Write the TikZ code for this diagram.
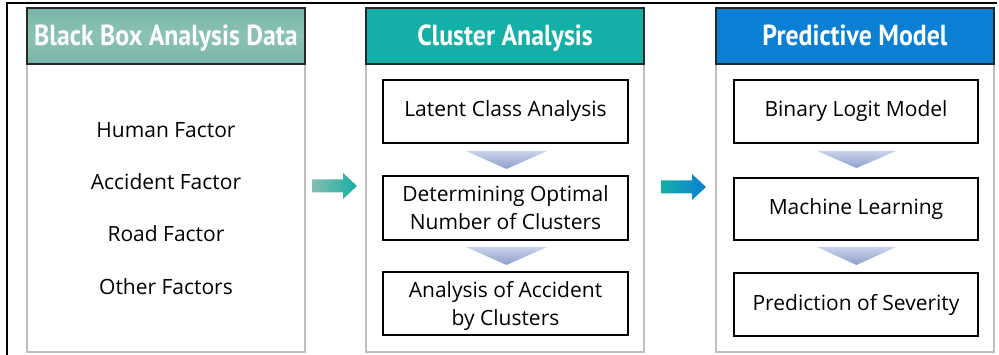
\documentclass[tikz,border=0pt]{standalone}
\usepackage{fontspec}
\setmainfont{Open Sans}
\newfontfamily\headfont[FakeStretch=0.89]{PT Sans}
\definecolor{gborder}{HTML}{BFBFBF}
\definecolor{hA}{HTML}{78B5A8}
\definecolor{hAl}{HTML}{8BC2B6}
\definecolor{hB}{HTML}{14AFA6}
\definecolor{hC}{HTML}{0A7FD3}
\definecolor{chevT}{HTML}{CBD3EA}
\definecolor{chevB}{HTML}{8C9ECB}
\tikzset{
  panel/.style={draw=gborder, line width=1.8pt, fill=white, minimum width=278pt, minimum height=344pt, inner sep=0pt, outer sep=0pt},
  header/.style={draw=black!85, line width=1.2pt, minimum width=278pt, minimum height=56pt, inner sep=0pt, outer sep=0pt, text height=20pt, text depth=0pt, text=white, font=\headfont\bfseries\fontsize{29}{32}\selectfont},
  stepbox/.style={draw=black, line width=1.3pt, fill=white, minimum height=63pt, inner sep=0pt, outer sep=0pt, align=center, font=\fontsize{21}{28}\selectfont},
  factor/.style={font=\fontsize{21}{24}\selectfont, inner sep=0pt},
  chev/.style={top color=chevT, bottom color=chevB, draw=none}
}
\begin{document}
\begin{tikzpicture}[x=1pt,y=-1pt]
\useasboundingbox (0,0) rectangle (999,355);
% outer frame (top and left)
\draw[line width=1.2pt] (7,355) coordinate (fa) -- (7,3) coordinate (fb) -- (997,3) coordinate (fc);
% panels
\node[panel] (p1) at (166,180) {};
\node[panel] (p2) at (505,180) {};
\node[panel] (p3) at (855,180) {};
\node[header, top color=hA, bottom color=hA, middle color=hAl] (h1) at (166,36) {Black Box Analysis Data};
\node[header, fill=hB] (h2) at (505,36) {Cluster Analysis};
\node[header, fill=hC] (h3) at (855,36) {Predictive Model};
% factors
\node[factor] (f1) at (166,130) {Human Factor};
\node[factor] (f2) at (166,182) {Accident Factor};
\node[factor] (f3) at (166,234) {Road Factor};
\node[factor] (f4) at (166,287) {Other Factors};
% cluster steps
\node[stepbox, minimum width=245pt] (c1) at (505.5,111.5) {Latent Class Analysis};
\node[stepbox, minimum width=245pt, minimum height=64pt] (c2) at (505.5,208) {Determining Optimal\\Number of Clusters};
\node[stepbox, minimum width=245pt, text depth=0pt] (c3) at (505.5,303.5) {Analysis of Accident\\by Clusters};
% model steps
\node[stepbox, minimum width=244pt] (m1) at (856,111.5) {Binary Logit Model};
\node[stepbox, minimum width=244pt, minimum height=62pt] (m2) at (856,209) {Machine Learning};
\node[stepbox, minimum width=244pt] (m3) at (856,304.5) {Prediction of Severity};
% chevrons
\shade[chev] (466,151) -- (547,151) -- (506.5,169) -- cycle;
\shade[chev] (466,247) -- (547,247) -- (506.5,265) -- cycle;
\shade[chev] (817,151) -- (896,151) -- (856.5,168) -- cycle;
\shade[chev] (817,247) -- (896,247) -- (856.5,265) -- cycle;
% arrows between panels
\shade[left color=hA!90!white, right color=hB] (312,179.5) -- (343,179.5) -- (343,173) -- (357,186) -- (343,199) -- (343,192.5) -- (312,192.5) -- cycle;
\shade[left color=hB, right color=hC] (661,180.5) -- (692,180.5) -- (692,174) -- (706,187) -- (692,200) -- (692,193.5) -- (661,193.5) -- cycle;
\end{tikzpicture}
\end{document}
